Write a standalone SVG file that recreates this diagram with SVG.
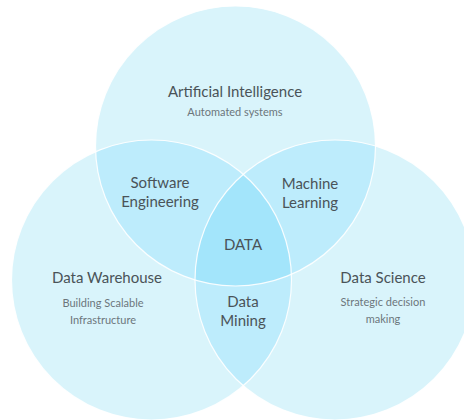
<svg xmlns="http://www.w3.org/2000/svg" width="464" height="420" viewBox="0 0 464 420">
<defs>
<style>
.base{fill:#d9f4fb}
.two{fill:#bdecfc}
.three{fill:#a3e5fb}
.edge{fill:none;stroke:#ffffff;stroke-width:1.2;stroke-opacity:0.9}
.t{font-family:Lato,"Liberation Sans",sans-serif;font-size:15px;fill:#4a5358;text-anchor:middle}
.s{font-family:Lato,"Liberation Sans",sans-serif;font-size:11px;fill:#6c767b;text-anchor:middle}
</style>
<clipPath id="cA"><circle cx="235.5" cy="146" r="140"/></clipPath>
<clipPath id="cL"><circle cx="151.5" cy="280" r="140"/></clipPath>
<clipPath id="cR"><circle cx="335" cy="280" r="140"/></clipPath>
</defs>
<rect width="464" height="420" fill="#ffffff"/>
<g id="ai">
<circle class="base" cx="235.5" cy="146" r="140"/>
</g>
<g id="dw">
<circle class="base" cx="151.5" cy="280" r="140"/>
</g>
<g id="ds">
<circle class="base" cx="335" cy="280" r="140"/>
</g>
<g id="overlaps">
<g clip-path="url(#cA)"><circle class="two" cx="151.5" cy="280" r="140"/><circle class="two" cx="335" cy="280" r="140"/></g>
<g clip-path="url(#cL)"><circle class="two" cx="335" cy="280" r="140"/></g>
<g clip-path="url(#cA)"><g clip-path="url(#cL)"><circle class="three" cx="335" cy="280" r="140"/></g></g>
</g>
<g id="edges">
<circle class="edge" cx="235.5" cy="146" r="140"/>
<circle class="edge" cx="151.5" cy="280" r="140"/>
<circle class="edge" cx="335" cy="280" r="140"/>
</g>
<g id="ai-label">
<text class="t" x="235" y="97">Artificial Intelligence</text>
<text class="s" x="235" y="116">Automated systems</text>
</g>
<g id="dw-label">
<text class="t" x="107" y="283">Data Warehouse</text>
<text class="s" x="103" y="307">Building Scalable</text>
<text class="s" x="103" y="324">Infrastructure</text>
</g>
<g id="ds-label">
<text class="t" x="383" y="283">Data Science</text>
<text class="s" x="383" y="306">Strategic decision</text>
<text class="s" x="383" y="323">making</text>
</g>
<g id="se">
<text class="t" x="160" y="188">Software</text>
<text class="t" x="160" y="207">Engineering</text>
</g>
<g id="ml">
<text class="t" x="310" y="189">Machine</text>
<text class="t" x="310" y="208">Learning</text>
</g>
<g id="data">
<text class="t" x="243" y="250">DATA</text>
</g>
<g id="dm">
<text class="t" x="243" y="307">Data</text>
<text class="t" x="243" y="326">Mining</text>
</g>
</svg>
